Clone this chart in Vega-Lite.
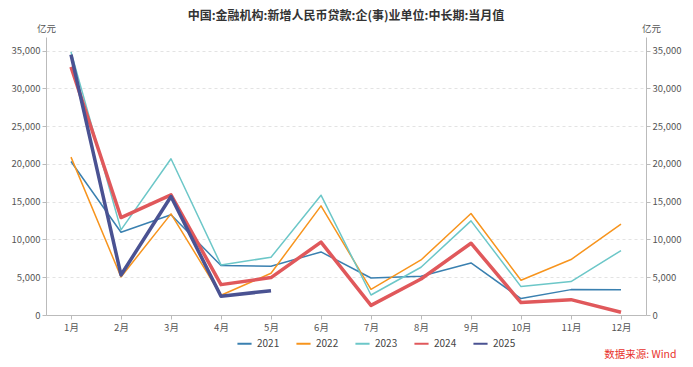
{
  "$schema": "https://vega.github.io/schema/vega-lite/v6.json",
  "width": 600,
  "height": 278,
  "autosize": {"type": "none"},
  "padding": {"left": 46, "top": 37, "right": 47, "bottom": 52},
  "background": "white",
  "title": {
    "text": "中国:金融机构:新增人民币贷款:企(事)业单位:中长期:当月值",
    "fontSize": 12,
    "fontWeight": "bold",
    "color": "#333333",
    "font": "Noto Sans CJK SC",
    "anchor": "middle",
    "frame": "group",
    "offset": 0,
    "dy": 0
  },
  "config": {
    "font": "Noto Sans CJK SC",
    "view": {"stroke": null},
    "axis": {
      "labelFont": "Noto Sans CJK SC",
      "titleFont": "Noto Sans CJK SC",
      "labelFontSize": 9.5,
      "labelColor": "#555555",
      "domainColor": "#bbbbbb",
      "tickColor": "#bbbbbb",
      "titleColor": "#555555",
      "titleFontSize": 9.5,
      "titleFontWeight": "normal"
    }
  },
  "data": {
    "values": [
      {"month": "1月", "year": "2021", "value": 20320},
      {"month": "2月", "year": "2021", "value": 10960},
      {"month": "3月", "year": "2021", "value": 13260},
      {"month": "4月", "year": "2021", "value": 6540},
      {"month": "5月", "year": "2021", "value": 6450},
      {"month": "6月", "year": "2021", "value": 8350},
      {"month": "7月", "year": "2021", "value": 4900},
      {"month": "8月", "year": "2021", "value": 5130},
      {"month": "9月", "year": "2021", "value": 6890},
      {"month": "10月", "year": "2021", "value": 2170},
      {"month": "11月", "year": "2021", "value": 3360},
      {"month": "12月", "year": "2021", "value": 3330},
      {"month": "1月", "year": "2022", "value": 20900},
      {"month": "2月", "year": "2022", "value": 5040},
      {"month": "3月", "year": "2022", "value": 13390},
      {"month": "4月", "year": "2022", "value": 2610},
      {"month": "5月", "year": "2022", "value": 5520},
      {"month": "6月", "year": "2022", "value": 14450},
      {"month": "7月", "year": "2022", "value": 3400},
      {"month": "8月", "year": "2022", "value": 7290},
      {"month": "9月", "year": "2022", "value": 13430},
      {"month": "10月", "year": "2022", "value": 4600},
      {"month": "11月", "year": "2022", "value": 7340},
      {"month": "12月", "year": "2022", "value": 12020},
      {"month": "1月", "year": "2023", "value": 34830},
      {"month": "2月", "year": "2023", "value": 11270},
      {"month": "3月", "year": "2023", "value": 20680},
      {"month": "4月", "year": "2023", "value": 6630},
      {"month": "5月", "year": "2023", "value": 7640},
      {"month": "6月", "year": "2023", "value": 15860},
      {"month": "7月", "year": "2023", "value": 2650},
      {"month": "8月", "year": "2023", "value": 6320},
      {"month": "9月", "year": "2023", "value": 12460},
      {"month": "10月", "year": "2023", "value": 3760},
      {"month": "11月", "year": "2023", "value": 4420},
      {"month": "12月", "year": "2023", "value": 8530},
      {"month": "1月", "year": "2024", "value": 32840},
      {"month": "2月", "year": "2024", "value": 12900},
      {"month": "3月", "year": "2024", "value": 15910},
      {"month": "4月", "year": "2024", "value": 4020},
      {"month": "5月", "year": "2024", "value": 4950},
      {"month": "6月", "year": "2024", "value": 9640},
      {"month": "7月", "year": "2024", "value": 1280},
      {"month": "8月", "year": "2024", "value": 4770},
      {"month": "9月", "year": "2024", "value": 9500},
      {"month": "10月", "year": "2024", "value": 1640},
      {"month": "11月", "year": "2024", "value": 2030},
      {"month": "12月", "year": "2024", "value": 360},
      {"month": "1月", "year": "2025", "value": 34470},
      {"month": "2月", "year": "2025", "value": 5300},
      {"month": "3月", "year": "2025", "value": 15690},
      {"month": "4月", "year": "2025", "value": 2470},
      {"month": "5月", "year": "2025", "value": 3220}
    ]
  },
  "encoding": {
    "x": {
      "field": "month",
      "type": "ordinal",
      "sort": ["1月", "2月", "3月", "4月", "5月", "6月", "7月", "8月", "9月", "10月", "11月", "12月"],
      "scale": {"type": "point", "padding": 0.5},
      "axis": {
        "labelAngle": 0,
        "tickSize": 4,
        "labelPadding": 3,
        "domainColor": "#bbbbbb",
        "title": "数据来源: Wind",
        "titleColor": "#e8322d",
        "titleFontSize": 10.5,
        "titleAnchor": null,
        "titleAlign": "right",
        "titleX": 630,
        "titleY": 34
      }
    },
    "y": {
      "field": "value",
      "type": "quantitative",
      "scale": {"domain": [0, 36800], "nice": false}
    },
    "color": {
      "field": "year",
      "type": "nominal",
      "scale": {
        "domain": ["2021", "2022", "2023", "2024", "2025"],
        "range": ["#3a80b0", "#f7941d", "#6cc7c8", "#e0585b", "#4a5292"]
      },
      "legend": {
        "orient": "none",
        "legendX": 190,
        "legendY": 298,
        "direction": "horizontal",
        "title": null,
        "symbolType": "stroke",
        "symbolSize": 200,
        "symbolStrokeWidth": 2,
        "labelFontSize": 10,
        "labelColor": "#444444",
        "columnPadding": 12,
        "labelOffset": 4,
        "values": ["2021", "2022", "2023", "2024", "2025"],
        "encode": {
          "symbols": {
            "enter": {"strokeWidth": {"value": 2}},
            "update": {"strokeWidth": {"value": 2}}
          }
        }
      }
    }
  },
  "layer": [
    {
      "transform": [{"filter": {"field": "year", "oneOf": ["2021", "2022", "2023"]}}],
      "mark": {"type": "line", "strokeWidth": 1.5, "strokeJoin": "round"},
      "encoding": {
        "y": {
          "field": "value",
          "type": "quantitative",
          "axis": {
            "values": [0, 5000, 10000, 15000, 20000, 25000, 30000, 35000],
            "format": ",d",
            "grid": true,
            "gridDash": [3, 3],
            "gridColor": "#e3e3e3",
            "tickSize": 4,
            "labelPadding": 2,
            "title": "亿元",
            "titleAngle": 0,
            "titleAlign": "center",
            "titleBaseline": "middle",
            "titleX": 0,
            "titleY": -9
          }
        }
      }
    },
    {
      "transform": [{"filter": {"field": "year", "oneOf": ["2024", "2025"]}}],
      "mark": {"type": "line", "strokeWidth": 3.5, "strokeJoin": "round"},
      "encoding": {
        "y": {
          "field": "value",
          "type": "quantitative",
          "axis": {
            "orient": "right",
            "values": [0, 5000, 10000, 15000, 20000, 25000, 30000, 35000],
            "format": ",d",
            "grid": false,
            "tickSize": 4,
            "labelPadding": 2,
            "title": "亿元",
            "titleAngle": 0,
            "titleAlign": "center",
            "titleBaseline": "middle",
            "titleX": 5,
            "titleY": -9
          }
        }
      }
    }
  ],
  "resolve": {"axis": {"y": "independent"}}
}
